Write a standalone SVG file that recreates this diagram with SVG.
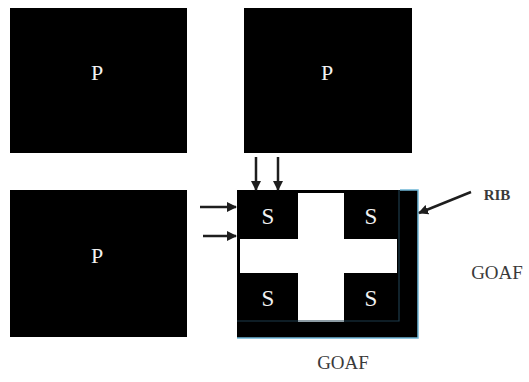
<svg xmlns="http://www.w3.org/2000/svg" width="529" height="382" viewBox="0 0 529 382">
  <defs>
    <style>
      .block { fill: #000; }
      .lbl { font-family: "Liberation Serif", "Times New Roman", serif; fill: #f2f2f2; text-anchor: middle; }
      .p { font-size: 22px; }
      .s { font-size: 23px; }
      .note { font-family: "Liberation Serif", "Times New Roman", serif; fill: #3a3a3a; text-anchor: middle; }
      .conn { stroke: #1e1e1e; stroke-width: 2.5; fill: none; marker-end: url(#head); }
    </style>
    <marker id="head" viewBox="0 0 10 10" refX="9" refY="5" markerWidth="4" markerHeight="4" orient="auto">
      <path d="M0,0 L10,5 L0,10 z" fill="#1e1e1e"/>
    </marker>
  </defs>

  <rect width="529" height="382" fill="#fff"/>

  <!-- pillars -->
  <g id="pillar-top-left">
    <rect class="block" x="10" y="8" width="177" height="145"/>
    <text class="lbl p" x="97" y="80">P</text>
  </g>
  <g id="pillar-top-right">
    <rect class="block" x="244" y="8" width="168" height="145"/>
    <text class="lbl p" x="327" y="80">P</text>
  </g>
  <g id="pillar-bottom-left">
    <rect class="block" x="10" y="190" width="177" height="147"/>
    <text class="lbl p" x="97" y="263">P</text>
  </g>

  <!-- panel split into stooks by a cross of drivages -->
  <g id="panel">
    <rect class="block" x="237" y="190" width="181" height="148"/>
    <rect x="240" y="239" width="157" height="34" fill="#fff"/>
    <rect x="298" y="193" width="46" height="129" fill="#fff"/>
    <!-- rib strip and goaf-side strip edges -->
    <path d="M399,190 V321 H237" fill="none" stroke="#1d3b4a" stroke-width="1.2"/>
    <path d="M400,190 H418 V338 H237" fill="none" stroke="#6fb6d6" stroke-width="1.5"/>
  </g>
  <g id="stook-1">
    <text class="lbl s" x="268" y="224">S</text>
  </g>
  <g id="stook-2">
    <text class="lbl s" x="371" y="224">S</text>
  </g>
  <g id="stook-3">
    <text class="lbl s" x="268" y="306">S</text>
  </g>
  <g id="stook-4">
    <text class="lbl s" x="371" y="306">S</text>
  </g>

  <!-- labels -->
  <g id="rib-label">
    <text class="note" x="497" y="200" font-size="15" font-weight="bold">RIB</text>
  </g>
  <g id="goaf-right">
    <text class="note" x="497" y="279" font-size="19">GOAF</text>
  </g>
  <g id="goaf-bottom">
    <text class="note" x="343" y="369" font-size="19">GOAF</text>
  </g>

  <!-- arrows -->
  <g id="connectors">
    <line class="conn" x1="256" y1="157" x2="256" y2="190"/>
    <line class="conn" x1="278" y1="157" x2="278" y2="190"/>
    <line class="conn" x1="200" y1="207" x2="236" y2="207"/>
    <line class="conn" x1="203" y1="236" x2="236" y2="236"/>
    <line class="conn" x1="471" y1="192" x2="419" y2="213"/>
  </g>
</svg>
